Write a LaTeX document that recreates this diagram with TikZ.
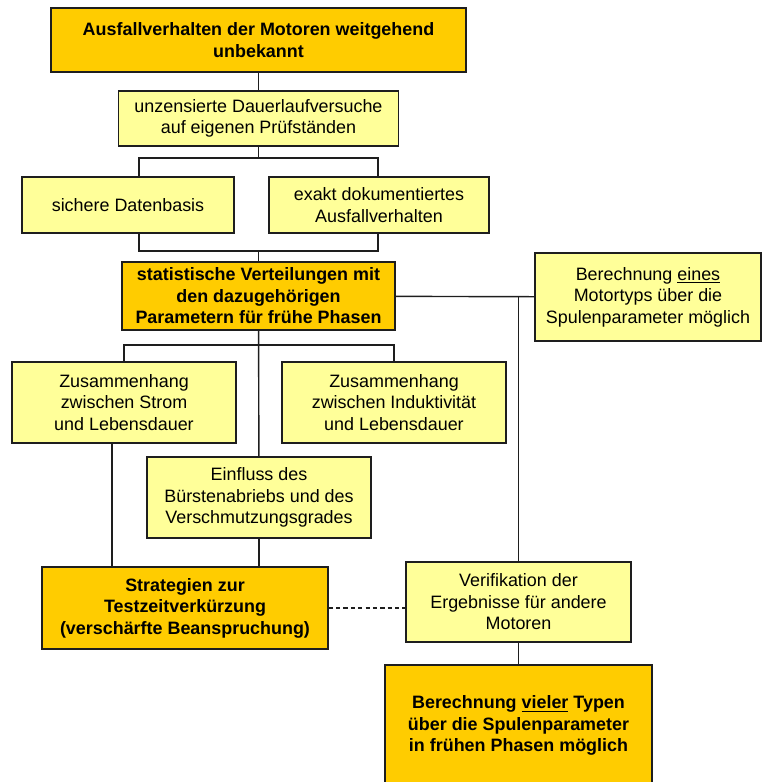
\documentclass[tikz,border=0pt]{standalone}
\usepackage{fontspec}
\setmainfont{Liberation Sans}
\usepackage{tikz}
\definecolor{MotGold}{RGB}{255,204,0}
\definecolor{MotLight}{RGB}{255,255,153}
\definecolor{MotLine}{RGB}{30,30,30}

\begin{document}
\begin{tikzpicture}[x=0.02cm,y=-0.02cm,
  goldbox/.style={draw=MotLine,line width=0.8pt,fill=MotGold,align=center,inner sep=2pt,font=\fontsize{10.2}{12.2}\selectfont\bfseries},
  lightbox/.style={draw=MotLine,line width=0.8pt,fill=MotLight,align=center,inner sep=2pt,font=\fontsize{10.2}{12.2}\selectfont},
  link/.style={draw=MotLine,line width=0.8pt}]
  \useasboundingbox (0,0) rectangle (762,782);
  \node[goldbox,minimum width=8.3cm,minimum height=1.28cm] (unbekannt) at (258.5,40) {Ausfallverhalten der Motoren weitgehend\\unbekannt};
  \node[lightbox,minimum width=5.6cm,minimum height=1.1cm] (versuche) at (258.5,118.5) {unzensierte Dauerlaufversuche\\auf eigenen Prüfständen};
  \node[lightbox,minimum width=4.24cm,minimum height=1.12cm] (datenbasis) at (128,205) {sichere Datenbasis};
  \node[lightbox,minimum width=4.4cm,minimum height=1.12cm] (ausfall) at (379,205) {exakt dokumentiertes\\Ausfallverhalten};
  \node[goldbox,minimum width=5.46cm,minimum height=1.36cm] (verteilung) at (258.5,296) {statistische Verteilungen mit\\den dazugehörigen\\Parametern für frühe Phasen};
  \node[lightbox,minimum width=4.52cm,minimum height=1.76cm] (eines) at (648,297) {Berechnung \underline{eines}\\Motortyps über die\\Spulenparameter möglich};
  \node[lightbox,minimum width=4.48cm,minimum height=1.62cm] (strom) at (124,402.5) {Zusammenhang\\zwischen Strom\\und Lebensdauer};
  \node[lightbox,minimum width=4.48cm,minimum height=1.62cm] (induktivitaet) at (394,402.5) {Zusammenhang\\zwischen Induktivität\\und Lebensdauer};
  \node[lightbox,minimum width=4.48cm,minimum height=1.62cm] (einfluss) at (259,497.5) {Einfluss des\\Bürstenabriebs und des\\Verschmutzungsgrades};
  \node[goldbox,minimum width=5.72cm,minimum height=1.64cm] (strategien) at (185,608) {Strategien zur\\Testzeitverkürzung\\(verschärfte Beanspruchung)};
  \node[lightbox,minimum width=4.5cm,minimum height=1.6cm] (verifikation) at (518.5,602) {Verifikation der\\Ergebnisse für andere\\Motoren};
  \node[goldbox,minimum width=5.34cm,minimum height=2.42cm] (vieler) at (518.5,725.5) {Berechnung \underline{vieler} Typen\\über die Spulenparameter\\in frühen Phasen möglich};
  % forks and joins
  \coordinate (forkL) at (139,158);
  \coordinate (forkR) at (378,158);
  \coordinate (joinL) at (139,251);
  \coordinate (joinR) at (378,251);
  \coordinate (forkM) at (259,345);
  \draw[link] (unbekannt) -- (versuche);
  \draw[link] (versuche) -- (versuche.south |- forkL);
  \draw[link] (datenbasis.north -| forkL) -- (forkL) -- (forkR) -- (ausfall.north -| forkR);
  \draw[link] (datenbasis.south -| joinL) -- (joinL) -- (joinR) -- (ausfall.south -| joinR);
  \draw[link] (verteilung) -- (verteilung.north |- joinL);
  \draw[link] (verteilung) -- (eines);
  \draw[link] (strom.north) -- (strom.north |- forkM) -| (induktivitaet.north);
  \draw[link] (verteilung) -- (einfluss);
  \draw[link] ([xshift=-0.24cm]strom.south) -- ([xshift=-0.24cm]strom.south |- strategien.north);
  \draw[link] (einfluss) -- (einfluss.south |- strategien.north);
  \draw[link] (verifikation.north) -- (verifikation.north |- verteilung.east);
  \draw[link] (verifikation) -- (vieler);
  \draw[link,dash pattern=on 2.4pt off 1.8pt] (strategien.east) -- (strategien.east -| verifikation.west);
\end{tikzpicture}
\end{document}
